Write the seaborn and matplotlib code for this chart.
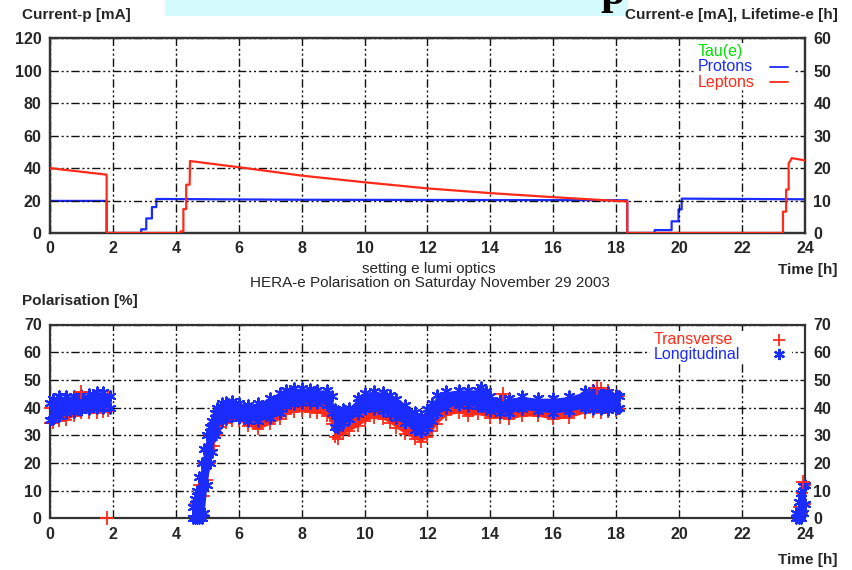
import numpy as np
import matplotlib
matplotlib.use("Agg")
import matplotlib.pyplot as plt
import seaborn as sns
from matplotlib.lines import Line2D
from matplotlib.patches import Rectangle

# ---------------- data ----------------
time_ticks = list(range(0, 25, 2))
current_p_ticks = [0, 20, 40, 60, 80, 100, 120]
current_e_ticks = [0, 10, 20, 30, 40, 50, 60]
pol_ticks = [0, 10, 20, 30, 40, 50, 60, 70]

# Protons current (left axis, mA)
proton_t = [0, 1.8, 1.8, 2.9, 2.9, 3.06, 3.06, 3.24, 3.24, 3.38, 3.38, 8, 12, 18.35,
            18.35, 19.22, 19.22, 19.76, 19.76, 19.98, 19.98, 20.08, 20.08, 24]
proton_ma = [19.8, 19.8, 0, 0, 2.3, 2.3, 9, 9, 16, 16, 21, 20.5, 20.4, 20.2,
             0, 0, 1.8, 1.8, 7.2, 7.2, 14.6, 14.6, 21.2, 20.8]

# Leptons current (right axis, mA)
lepton_t = [0, 1.8, 1.8, 4.15, 4.15, 4.24, 4.24, 4.33, 4.33, 4.44, 4.45, 6, 8, 10, 12,
            14, 16, 18, 18.35, 18.35, 23.3, 23.3, 23.4, 23.4, 23.48, 23.48, 23.58, 24]
lepton_ma = [20, 18, 0, 0, 0.5, 0.5, 7.4, 7.4, 14.9, 14.9, 22.2, 20.3, 17.7, 15.65, 13.75,
             12.3, 11.05, 9.9, 9.75, 0, 0, 6.6, 6.6, 13.4, 13.4, 21.4, 23.1, 22.4]

# Longitudinal polarisation band (lower / upper edge of the point cloud)
long_t = [0.0, 0.1, 0.3, 0.5, 0.75, 1.0, 1.25, 1.5, 1.7, 1.9,
          4.56, 4.62, 4.67, 4.75, 4.83, 4.9, 4.99, 5.09, 5.15, 5.25, 5.31, 5.46, 5.6,
          5.8, 6.0, 6.3, 6.6, 7.0, 7.3, 7.5, 7.75, 8.0, 8.25, 8.5, 8.8, 8.95, 9.05, 9.15,
          9.3, 9.5, 9.8, 10.0, 10.3, 10.6, 10.8, 11.0, 11.3, 11.6, 11.8, 12.0, 12.15, 12.3,
          12.6, 13.0, 13.3, 13.6, 13.7, 13.85, 14.0, 14.3, 14.6, 15.0, 15.5, 16.0, 16.5,
          17.0, 17.25, 17.5, 17.75, 18.0, 18.1,
          23.72, 23.8, 23.87, 23.94, 24.0]
long_hi = [41.5, 43, 44, 44.2, 44.3, 44.5, 45, 45.7, 45.5, 44,
           4, 7, 10, 15, 20, 25, 30, 33, 35, 38, 40, 41.5, 42,
           42.3, 41.7, 41, 41.7, 43.5, 45.2, 46.4, 47, 47, 46.8, 46.4, 46.4, 44, 39.5, 38.7,
           39.3, 39.9, 43.5, 45.2, 45.8, 45.5, 44.5, 43, 41, 38.5, 37, 39.5, 41.5, 44.6,
           45.8, 46.4, 46.4, 46.4, 47.6, 46, 44, 42.8, 43.4, 44, 43.4, 43.4, 44,
           45.8, 46.5, 45.2, 45.5, 44.6, 44,
           2, 6, 9, 11.5, 12]
long_lo = [35.5, 36, 37, 37.9, 38.5, 39, 39.3, 39.7, 39.8, 40,
           0, 0, 0, 0, 0, 2, 12, 20, 24, 30, 32, 35, 36,
           37, 36.3, 35.1, 35.1, 36.3, 38.1, 40.5, 41.3, 41.7, 41.7, 41.7, 41, 38, 33, 32.7,
           34.5, 35.7, 37.5, 39.3, 39.3, 38.7, 37.5, 36.3, 34.5, 32, 31, 32.5, 35, 38.1,
           39.9, 41, 40.5, 40.5, 40.5, 39.5, 38.7, 38, 38, 39.3, 38.7, 38, 38.7,
           39.9, 39.5, 39.3, 39, 39.3, 40,
           0, 0, 0, 2, 5]

# Transverse polarisation band
trans_t = [0.0, 0.1, 0.3, 0.5, 0.75, 1.0, 1.25, 1.5, 1.7, 1.85,
           4.6, 4.75, 4.9, 5.0, 5.1, 5.2, 5.3, 5.4, 5.6, 5.8, 6.0, 6.3, 6.6, 7.0, 7.3, 7.5,
           7.75, 8.0, 8.25, 8.5, 8.8, 8.95, 9.05, 9.15, 9.3, 9.5, 9.8, 10.0, 10.3, 10.6,
           10.8, 11.0, 11.3, 11.6, 11.8, 12.0, 12.15, 12.3, 12.6, 13.0, 13.3, 13.6, 14.0,
           14.3, 14.6, 15.0, 15.5, 16.0, 16.5, 17.0, 17.25, 17.5, 17.75, 18.0, 18.1,
           23.8, 23.9, 24.0]
trans_lo = [34.5, 34.3, 35, 35.5, 36.8, 38, 38, 38.1, 38.5, 38.9,
            0, 2, 8, 14, 20, 26, 30, 33, 34.5, 35, 35.1, 33.3, 32.1, 34, 35.7, 37.5,
            38.3, 38.7, 38.5, 38.1, 36.9, 34, 29.5, 28.6, 30.4, 31.5, 33.3, 35.1, 36.3, 35.7,
            34.5, 32.7, 30.4, 28.6, 27.6, 29.4, 31.5, 34.2, 37.2, 38.1, 36.9, 37.5, 36.3,
            36.3, 35.7, 36.9, 36.9, 35.7, 36.3, 38.1, 38.3, 38.1, 38.4, 38.7, 39.5,
            0, 2, 5]
trans_hi = [40, 40, 41, 41.5, 42, 42.5, 43, 43.5, 43.5, 44,
            5, 12, 20, 25, 30, 34, 37, 39, 40, 40, 40, 38.5, 37.5, 39, 41, 42.5,
            43, 43.5, 43.3, 43, 42, 39, 35, 34, 35.5, 36.5, 38.5, 40, 41.5, 41,
            39.5, 38, 35.5, 33.5, 32.5, 34.5, 36.5, 39, 42, 43, 42, 42.5, 41,
            42, 41, 42, 42, 41, 41.5, 43, 46.5, 47, 46.5, 44, 44,
            4, 9, 12]
trans_extra_t = [1.0, 1.8, 14.4, 17.4, 23.95]
trans_extra_v = [45.7, 0.0, 45.0, 47.0, 13.2]

top_legend_labels = ["Tau(e)", "Protons", "Leptons"]
bot_legend_labels = ["Transverse", "Longitudinal"]

# ---------------- style ----------------
sns.set_style("white")
plt.rcParams["font.family"] = ["Liberation Sans", "DejaVu Sans"]

RED = "#ff2a18"
BLUE = "#1a2cff"
GREEN = "#00e000"
GRID_KW = dict(color="#111111", linewidth=1.0, linestyle=(0, (6, 2, 1.5, 2, 1.5, 2)))

W, H = 852, 570
fig = plt.figure(figsize=(W / 100, H / 100), dpi=100)


def fx(px):
    return px / W


def fy(py):
    return 1 - py / H


ax_top = fig.add_axes([fx(50), fy(233), fx(755), (233 - 38.5) / H])
ax_bot = fig.add_axes([fx(50), fy(518.3), fx(755), (518.3 - 324.5) / H])


def style_axis(ax, yticks):
    ax.set_xlim(0, 24)
    ax.set_xticks(time_ticks)
    ax.set_yticks(yticks)
    ax.set_ylim(yticks[0], yticks[-1])
    ax.tick_params(length=0, labelsize=11.5, pad=6)
    for lab in ax.get_xticklabels() + ax.get_yticklabels():
        lab.set_fontweight("bold")
    for s in ax.spines.values():
        s.set_color("#333333")
        s.set_linewidth(1.6)
    ax.grid(True, **GRID_KW)
    ax.set_xlabel("")
    ax.set_ylabel("")


def right_axis(ax, lim, ticks, spines=True):
    r = ax.twinx()
    r.set_ylim(*lim)
    r.set_yticks(ticks)
    r.tick_params(length=0, labelsize=11.5, pad=6)
    for lab in r.get_yticklabels():
        lab.set_fontweight("bold")
    for s in r.spines.values():
        s.set_visible(spines)
        s.set_color("#333333")
        s.set_linewidth(1.6)
    return r


# ---------- top panel ----------
style_axis(ax_top, current_p_ticks)
ax_top.set_axisbelow(False)
sns.lineplot(x=proton_t, y=proton_ma, estimator=None, sort=False, color=BLUE,
             linewidth=1.6, ax=ax_top, zorder=1.5)
ax_e = right_axis(ax_top, (0, 60), current_e_ticks)
sns.lineplot(x=lepton_t, y=lepton_ma, estimator=None, sort=False, color=RED,
             linewidth=1.6, ax=ax_e, zorder=3)
ax_e.set_ylabel("")

# key (opaque white box, left-aligned texts, samples on the right)
fig.add_artist(Rectangle((fx(694), fy(90)), fx(101), 47 / H, transform=fig.transFigure,
                         facecolor="white", edgecolor="none", zorder=4))
for lab, col, ypx in zip(top_legend_labels, [GREEN, BLUE, RED], [51.5, 66.5, 82]):
    fig.text(fx(698), fy(ypx), lab, color=col, fontsize=11.5, va="center", ha="left", zorder=5)
for col, ypx in zip([BLUE, RED], [66.5, 82]):
    fig.add_artist(Line2D([fx(770), fx(788)], [fy(ypx), fy(ypx)], transform=fig.transFigure,
                          color=col, lw=1.3, zorder=5))

# ---------- bottom panel ----------
style_axis(ax_bot, pol_ticks)
ax_bot.set_axisbelow(True)
ax_bot_r = right_axis(ax_bot, (0, 70), pol_ticks, spines=False)


def segments(t):
    t = np.asarray(t)
    cuts = np.where(np.diff(t) > 1.0)[0] + 1
    return np.split(np.arange(len(t)), cuts)


tt = np.asarray(trans_t); tlo = np.asarray(trans_lo); thi = np.asarray(trans_hi)
for idx in segments(tt):
    ax_bot.fill_between(tt[idx], tlo[idx], thi[idx], color=RED, lw=0, zorder=2)
for arr in (tlo, thi):
    sns.scatterplot(x=tt, y=arr, marker="+", s=70, color=RED, linewidth=1.3,
                    ax=ax_bot, zorder=2.2, clip_on=False)
sns.scatterplot(x=trans_extra_t, y=trans_extra_v, marker="+", s=90, color=RED,
                linewidth=1.3, ax=ax_bot, zorder=4, clip_on=False)

lt = np.asarray(long_t); llo = np.asarray(long_lo); lhi = np.asarray(long_hi)
for idx in segments(lt):
    ax_bot.fill_between(lt[idx], llo[idx], lhi[idx], color=BLUE, lw=0, zorder=3)
for arr in (llo, lhi):
    sns.scatterplot(x=lt, y=arr, marker=(6, 2, 0), s=55, color=BLUE, linewidth=1.5,
                    edgecolor=BLUE, ax=ax_bot, zorder=3.2, clip_on=False)
ax_bot.set_xlabel("")
ax_bot.set_ylabel("")

fig.add_artist(Rectangle((fx(650), fy(362)), fx(142), 31 / H, transform=fig.transFigure,
                         facecolor="white", edgecolor="none", zorder=4))
for lab, col, ypx in zip(bot_legend_labels, [RED, BLUE], [339.5, 354]):
    fig.text(fx(654), fy(ypx), lab, color=col, fontsize=11.5, va="center", ha="left", zorder=5)
fig.add_artist(Line2D([fx(779)], [fy(339.5)], transform=fig.transFigure, linestyle="none",
                      marker="+", markersize=9, mew=1.3, color=RED, zorder=5))
fig.add_artist(Line2D([fx(779)], [fy(354)], transform=fig.transFigure, linestyle="none",
                      marker=(6, 2, 0), markersize=8, mew=1.6, color=BLUE, zorder=5))

# ---------- figure texts ----------
fig.add_artist(Rectangle((fx(165), fy(16)), fx(463), 16 / H, transform=fig.transFigure,
                         facecolor="#d6fbff", edgecolor="none", zorder=0))
fig.text(fx(600), fy(4), "p", family="Liberation Serif", fontweight="bold", fontsize=32,
         va="baseline", ha="left", color="black")

fig.text(fx(22), fy(15), "Current-p [mA]", fontsize=11, fontweight="bold", va="center", ha="left")
fig.text(fx(838), fy(15), "Current-e [mA], Lifetime-e [h]", fontsize=11, fontweight="bold",
         va="center", ha="right")
fig.text(fx(838), fy(270), "Time [h]", fontsize=11, fontweight="bold", va="center", ha="right")
fig.text(fx(429), fy(269), "setting e lumi optics", fontsize=11, va="center", ha="center")
fig.text(fx(430), fy(283), "HERA-e Polarisation on Saturday November 29 2003", fontsize=11,
         va="center", ha="center")
fig.text(fx(22), fy(301), "Polarisation [%]", fontsize=11, fontweight="bold", va="center", ha="left")
fig.text(fx(838), fy(560), "Time [h]", fontsize=11, fontweight="bold", va="center", ha="right")

fig.savefig("out.png", dpi=100)
